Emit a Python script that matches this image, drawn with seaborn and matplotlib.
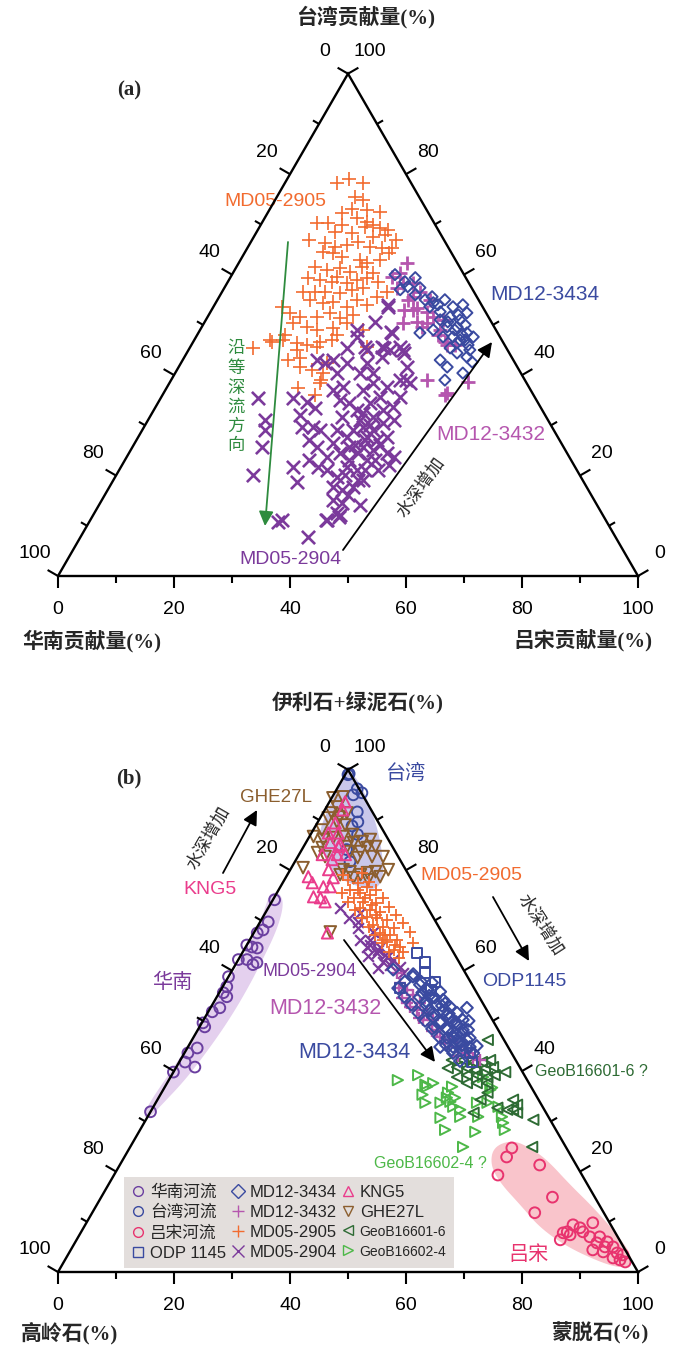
import numpy as np
import matplotlib
matplotlib.use("Agg")
import matplotlib.pyplot as plt
from matplotlib.lines import Line2D
from matplotlib.patches import Polygon
import seaborn as sns

# ---------------- data (ternary %) ----------------
# panel (a): (Taiwan %, Luzon %) ; South China = rest
a_md05_2905 = [(78.3, 8.9), (79.1, 10.7), (78.3, 13.5), (75.5, 13.4), (74.9, 15.1), (72.3, 12.9), (73.1, 14.1),
               (72.9, 16.9), (72.5, 19.2), (71.3, 15.9), (70.3, 9.5), (70.3, 11.4), (69.9, 14.1), (70.5, 18.1),
               (69.9, 19.3), (69.5, 18.1), (68.9, 22.4), (69.3, 20.8), (68.5, 13.5), (68.3, 16.5), (66.9, 24.9),
               (67.5, 20.5), (67.9, 22.4), (66.9, 9.9), (66.3, 12.8), (65.5, 15.0), (65.9, 16.8), (66.5, 18.4),
               (65.5, 21.0), (65.3, 23.2), (65.3, 24.9), (64.5, 13.4), (64.3, 15.2), (63.5, 17.3), (62.9, 20.6),
               (62.4, 22.1), (62.9, 24.0), (64.3, 25.0), (61.6, 13.5), (61.0, 15.9), (61.4, 17.9), (60.6, 20.0),
               (61.6, 21.6), (60.4, 24.1), (59.4, 13.4), (59.0, 15.7), (58.6, 17.9), (59.6, 18.3), (58.4, 20.6),
               (59.0, 22.1), (59.4, 23.6), (58.6, 25.9), (56.6, 13.9), (56.6, 16.0), (56.6, 17.7), (56.4, 20.4),
               (57.0, 22.2), (57.4, 23.9), (56.6, 28.4), (55.0, 15.9), (54.4, 18.5), (54.6, 20.1), (53.6, 23.0),
               (55.0, 24.1), (54.0, 26.3), (55.6, 27.2), (53.6, 11.8), (52.4, 13.8), (51.6, 15.9), (51.6, 18.9),
               (52.4, 20.7), (51.4, 22.9), (52.0, 24.9), (50.4, 15.3), (49.6, 18.1), (49.0, 20.2), (49.4, 22.7),
               (50.4, 24.6), (49.0, 28.1), (46.6, 13.6), (47.0, 15.3), (46.4, 18.0), (46.0, 19.9), (46.6, 21.9),
               (47.0, 13.1), (45.4, 10.9), (48.0, 15.1), (45.0, 18.7), (43.0, 18.2), (41.6, 20.9), (41.0, 23.3),
               (40.4, 25.5), (38.4, 26.0), (37.4, 22.7), (36.1, 26.3), (42.4, 25.2), (47.0, 23.7), (48.0, 24.1),
               (45.6, 30.5), (45.6, 21.9), (43.4, 20.0), (39.0, 25.8)]
a_md05_2904 = [(35.5, 16.7), (31.1, 20.1), (29.1, 21.2), (25.7, 22.4), (20.1, 23.5), (11.2, 33.0), (35.5, 22.7),
               (32.1, 25.6), (34.7, 25.5), (33.5, 27.5), (29.7, 27.3), (29.7, 29.1), (29.1, 30.6), (27.1, 29.8),
               (25.7, 31.8), (21.7, 29.6), (18.7, 31.8), (23.1, 31.8), (21.7, 33.9), (23.7, 34.5), (42.4, 24.8),
               (40.4, 27.9), (42.4, 28.6), (37.6, 30.3), (37.1, 28.8), (35.1, 31.0), (34.5, 33.0), (33.1, 35.0),
               (31.7, 33.2), (29.1, 33.5), (27.7, 35.9), (29.1, 36.3), (26.5, 34.1), (24.5, 36.3), (25.7, 37.4),
               (24.5, 39.4), (21.1, 35.8), (19.7, 38.2), (21.7, 38.9), (21.1, 41.0), (19.1, 43.0), (17.7, 38.5),
               (17.1, 40.5), (17.7, 42.0), (15.1, 39.8), (14.5, 41.8), (12.5, 41.8), (11.2, 40.8), (12.2, 42.5),
               (10.8, 32.5), (42.4, 32.1), (38.4, 35.1), (37.1, 34.0), (34.5, 36.5), (35.7, 37.6), (37.6, 37.9),
               (32.5, 36.3), (31.7, 38.4), (33.1, 39.4), (33.7, 40.9), (35.7, 41.2), (29.7, 37.8), (29.1, 39.7),
               (30.5, 40.7), (31.1, 42.3), (27.7, 39.4), (27.1, 41.5), (27.7, 42.9), (25.7, 39.8), (25.1, 41.8),
               (24.5, 44.5), (23.7, 46.0), (23.1, 41.8), (19.1, 42.1), (39.0, 39.5), (45.0, 37.0), (45.0, 34.7),
               (43.6, 34.1), (45.0, 30.8), (47.6, 27.8), (48.4, 33.4), (41.6, 39.4), (38.4, 41.5), (40.4, 31.9),
               (40.4, 34.1), (45.4, 27.1), (43.0, 25.9), (43.0, 23.2), (7.8, 39.2), (11.2, 40.6), (11.8, 42.5),
               (49.0, 27.1), (50.6, 29.4), (54.0, 29.9), (48.6, 33.1), (44.4, 37.5), (39.0, 40.5), (45.4, 33.5),
               (53.6, 30.1), (45.6, 33.1), (45.6, 36.2), (45.6, 30.1), (31.1, 36.5), (30.1, 38.7), (27.1, 39.3),
               (26.1, 38.2), (23.1, 43.1), (23.1, 38.7), (20.1, 39.4), (21.1, 42.3), (26.1, 42.4), (22.1, 46.1),
               (21.1, 44.6), (16.1, 42.0), (14.1, 45.0)]
a_md12_3434 = [(59.4, 31.9), (55.6, 36.7), (54.4, 37.5), (55.0, 39.2), (53.6, 41.3), (54.0, 42.8), (52.4, 44.3),
               (51.0, 43.8), (51.6, 41.8), (52.6, 39.6), (53.6, 37.3), (48.4, 38.2), (49.0, 40.2), (49.6, 42.3),
               (49.6, 44.0), (48.4, 46.3), (47.6, 44.3), (47.0, 45.8), (47.6, 47.8), (57.0, 30.5), (57.6, 31.5),
               (57.4, 33.7), (47.6, 42.6), (46.4, 45.6), (47.0, 46.7), (43.0, 44.4), (41.6, 46.3), (44.4, 46.6),
               (40.4, 49.6), (39.0, 47.2), (43.6, 48.7), (45.0, 48.5), (45.4, 44.9), (51.0, 40.4), (50.6, 41.9),
               (49.0, 43.9), (48.0, 45.7), (50.0, 45.2), (52.0, 43.0), (54.0, 38.5), (55.0, 35.8), (56.0, 33.6),
               (58.6, 30.5), (60.0, 28.1), (46.0, 47.7), (42.6, 50.1)]
a_md12_3432 = [(62.4, 29.0), (60.4, 28.8), (59.6, 27.8), (58.4, 30.3), (58.4, 32.0), (56.6, 34.1), (55.6, 33.4),
               (55.0, 36.6), (53.4, 35.2), (51.6, 38.9), (51.0, 40.9), (50.4, 38.4), (53.0, 34.7), (50.4, 34.3),
               (49.6, 38.0), (49.0, 41.4), (46.6, 43.4), (57.4, 29.7), (55.0, 32.8), (52.6, 37.3), (39.0, 44.1),
               (36.5, 48.9), (38.6, 51.4), (46.0, 44.1), (53.0, 33.2), (50.6, 36.6), (36.1, 48.6), (46.0, 45.4),
               (48.0, 41.5)]

# panel (b): (illite+chlorite %, smectite %) ; kaolinite = rest
b_sc_river = [(74.1, 0.3), (69.7, 1.4), (68.1, 1.3), (67.5, 0.6), (65.1, 0.0), (64.7, 1.1), (64.5, 2.1), (62.2, 0.0),
              (62.2, 1.5), (61.6, 3.5), (61.2, 3.0), (58.8, 0.0), (56.8, 0.7), (55.6, 0.7), (54.8, 1.7), (52.6, 1.6),
              (51.8, 0.7), (49.6, 0.2), (48.8, 0.9), (43.6, 0.6), (44.6, 1.7), (41.8, 1.0), (39.8, 0.0), (40.8, 3.2),
              (31.9, 0.0)]
b_tw_river = [(99.0, 0.5), (99.2, 0.6), (96.2, 3.5), (95.4, 4.7), (95.0, 3.4), (91.6, 5.8), (89.6, 6.9), (88.8, 6.3),
              (87.1, 8.1), (84.1, 7.7), (81.7, 9.5)]
b_lz_river = [(24.7, 65.9), (22.9, 65.9), (19.3, 66.2), (21.3, 72.4), (14.9, 77.8), (11.8, 76.3), (9.8, 87.3),
              (9.4, 84.1), (8.0, 86.5), (7.8, 83.2), (7.0, 88.2), (7.0, 89.9), (6.4, 83.4), (7.4, 84.6), (5.8, 90.0),
              (6.0, 91.7), (5.0, 91.8), (5.0, 93.2), (4.4, 90.0), (3.8, 94.5), (2.8, 94.3), (2.4, 95.7), (2.0, 96.8),
              (3.4, 95.7), (8.0, 83.8), (8.8, 85.6), (4.0, 92.0)]
b_odp1145 = [(63.5, 30.1), (61.6, 32.5), (59.6, 33.5), (57.8, 36.1), (56.6, 30.7), (41.8, 50.5), (43.6, 49.2),
             (56.2, 36.2)]
b_md12_3434 = [(60.2, 27.7), (57.8, 30.9), (58.8, 31.8), (55.6, 35.0), (56.2, 35.5), (54.6, 37.2), (53.2, 38.7),
               (51.8, 40.5), (50.6, 42.3), (49.2, 44.2), (47.6, 46.0), (46.2, 47.4), (44.8, 48.6), (43.6, 49.8),
               (54.2, 39.3), (52.8, 41.2), (51.6, 43.0), (50.2, 44.7), (48.2, 46.6), (50.8, 39.3), (49.6, 41.1),
               (48.2, 43.0), (46.8, 44.7), (45.6, 46.5), (52.6, 44.2), (57.6, 35.7), (55.8, 38.0), (46.6, 43.8),
               (44.8, 43.5), (44.8, 45.7), (44.2, 47.7), (44.2, 45.8), (57.2, 33.8), (53.9, 36.5), (52.0, 38.0),
               (51.2, 41.5), (49.8, 43.0), (48.8, 40.5), (47.3, 45.2), (45.2, 47.2), (53.5, 40.0), (50.0, 45.8),
               (47.8, 44.2), (55.0, 36.5), (46.0, 46.0), (59.3, 31.6), (56.5, 30.4), (57.8, 33.7), (54.8, 32.3),
               (56.2, 35.7), (53.2, 34.3), (54.7, 35.0), (54.6, 37.7), (51.6, 36.3), (53.1, 37.0), (53.0, 39.7),
               (50.0, 38.3), (51.5, 39.0), (51.4, 41.7), (48.4, 40.3), (49.9, 41.0), (49.8, 43.7), (46.8, 42.3),
               (48.3, 43.0), (48.2, 45.7), (45.2, 44.3), (46.7, 45.0), (46.6, 47.7), (43.6, 46.3), (45.1, 47.0),
               (45.0, 49.7), (42.0, 48.3)]
b_md12_3432 = [(59.6, 28.6), (57.6, 30.2), (56.2, 32.1), (55.2, 33.6), (53.6, 35.6), (52.2, 35.8), (51.6, 37.8),
               (50.2, 39.6), (48.2, 41.2), (46.8, 42.5), (46.2, 44.5), (44.8, 46.4), (43.6, 48.7), (42.6, 50.3),
               (42.2, 51.7), (54.6, 32.0), (52.8, 34.3), (50.2, 37.8), (49.2, 39.9), (56.5, 30.5), (53.5, 33.5),
               (50.5, 37.0), (48.0, 40.5), (45.5, 44.0), (43.0, 47.5)]
b_md05_2905 = [(78.1, 11.0), (77.5, 12.9), (76.7, 15.0), (76.1, 12.3), (75.5, 14.4), (75.1, 16.3), (74.5, 13.7),
               (73.7, 15.8), (73.5, 18.0), (72.5, 15.9), (72.1, 17.8), (71.7, 19.7), (70.7, 18.0), (70.5, 19.8),
               (70.1, 21.7), (69.1, 19.8), (68.7, 21.7), (68.5, 23.6), (67.5, 21.8), (67.1, 23.7), (66.1, 25.4),
               (65.7, 23.9), (64.7, 26.7), (63.7, 27.7), (79.1, 9.6), (66.1, 22.9), (64.1, 25.8), (74.5, 15.7),
               (71.1, 19.2), (67.1, 22.9), (65.1, 25.6), (73.1, 17.6), (76.1, 13.7), (79.4, 12.8), (75.4, 11.2),
               (77.7, 14.8), (73.7, 13.2), (76.0, 16.8), (72.0, 15.2), (74.4, 18.8), (70.4, 17.2), (72.7, 20.8),
               (68.7, 19.2), (71.0, 22.8), (67.0, 21.2), (69.4, 24.8), (65.4, 23.2), (67.7, 26.8), (63.7, 25.2),
               (65.5, 28.5), (62.5, 27.5)]
b_md05_2904 = [(72.5, 12.4), (69.7, 16.8), (71.5, 16.4), (67.7, 20.5), (66.1, 20.8), (64.7, 21.0), (64.7, 23.2),
               (63.5, 23.3), (62.7, 25.4), (61.2, 26.6), (61.8, 25.1), (65.1, 21.3), (64.1, 23.2), (63.1, 24.9),
               (62.2, 26.7), (60.8, 28.6), (59.6, 29.7), (70.5, 15.0), (68.5, 17.5), (66.0, 19.0), (63.0, 22.0),
               (60.5, 25.0)]
b_kng5 = [(93.6, 2.7), (92.0, 3.1), (87.4, 2.9), (87.4, 4.6), (85.5, 4.2), (85.1, 6.1), (83.1, 6.6), (83.1, 8.0),
          (83.1, 4.0), (82.1, 6.2), (80.1, 6.6), (78.7, 3.8), (77.5, 5.1), (76.7, 7.4), (78.5, 8.2), (76.7, 8.6),
          (74.7, 6.7), (74.5, 8.0), (73.7, 9.2), (67.5, 12.7), (84.7, 6.0), (89.4, 3.1)]
b_ghe27l = [(94.4, 0.2), (94.6, 1.8), (92.6, 1.8), (91.4, 1.5), (90.6, 3.3), (91.4, 4.1), (90.4, 1.4), (89.6, 3.3),
            (89.0, 5.0), (88.0, 1.5), (86.7, 0.7), (86.1, 2.7), (86.5, 4.2), (86.7, 5.8), (87.1, 7.2), (85.5, 8.2),
            (85.7, 9.6), (86.1, 10.8), (84.5, 11.1), (84.7, 12.4), (83.7, 10.3), (83.7, 8.5), (84.5, 3.3),
            (83.5, 3.0), (82.7, 4.7), (82.5, 10.4), (82.7, 12.8), (82.7, 14.7), (80.5, 2.0), (80.1, 9.1),
            (79.7, 10.5), (79.1, 12.6), (79.5, 13.6), (79.7, 14.9), (80.1, 16.9), (78.7, 16.2), (79.1, 9.1),
            (78.5, 11.7), (78.1, 14.4), (67.7, 13.1), (84.7, 7.5)]
b_geob16601 = [(42.2, 46.8), (42.2, 48.7), (41.8, 50.7), (41.8, 52.2), (42.2, 53.4), (46.2, 51.0), (40.6, 46.9),
               (40.8, 48.4), (40.6, 50.2), (40.2, 51.8), (40.6, 53.3), (40.8, 54.6), (38.8, 49.4), (39.2, 50.9),
               (39.2, 52.6), (38.8, 54.6), (39.2, 55.7), (37.6, 51.7), (37.6, 53.4), (37.6, 55.2), (34.3, 61.3),
               (33.3, 62.5), (32.3, 62.3), (31.7, 63.3), (34.3, 55.7), (31.7, 55.8), (32.7, 59.4), (30.3, 66.8),
               (24.9, 69.3), (35.7, 56.2), (39.8, 57.2), (32.3, 61.3)]
b_geob16602 = [(38.2, 39.5), (39.2, 42.5), (37.3, 44.7), (37.6, 45.9), (35.3, 45.2), (33.7, 46.5), (33.7, 49.1),
               (35.7, 49.4), (33.9, 50.7), (34.7, 51.1), (30.7, 50.6), (30.9, 53.9), (33.7, 55.4), (30.9, 57.0),
               (27.9, 58.0), (24.9, 57.4), (36.3, 56.4), (32.9, 59.5), (30.9, 61.1), (29.7, 61.9), (28.3, 62.9),
               (36.9, 49.5), (34.7, 49.7), (36.9, 45.2), (32.9, 51.7), (32.3, 53.2), (33.7, 57.2), (36.7, 56.5),
               (38.8, 53.9), (28.3, 52.6)]

# source fields (outline vertices, same ternary units)
zone_taiwan = [(100, 0), (98.0, 2.7), (94.0, 6.4), (88.0, 11.2), (82.1, 15.0), (78.1, 17.0), (76.1, 16.6),
               (76.5, 14.2), (78.1, 9.6), (82.1, 5.0), (87.1, 1.2), (93.0, 0.4), (98.0, 0)]
zone_south = [(75.5, -1.2), (75.5, 0.5), (73.1, 2.4), (68.1, 3.7), (62.2, 4.2), (56.2, 4.5), (50.2, 4.4), (44.2, 3.8),
              (38.2, 2.8), (33.3, 1.25), (30.9, 0.45), (30.7, -0.65), (33.3, -1.15), (41.2, -0.4), (50.2, 0.2),
              (59.2, 0.4), (67.1, 0.45), (73.1, -0.65)]
zone_luzon = [(24.9, 62.6), (26.3, 65.2), (24.7, 69.1), (22.3, 73.2), (17.3, 79.7), (12.9, 85.8), (8.0, 92.0),
              (4.0, 96.6), (1.4, 98.3), (0.8, 96.5), (2.0, 92.4), (5.0, 85.3), (8.8, 78.7), (13.3, 73.1),
              (17.7, 67.4), (21.3, 63.9)]

tick_values = [0, 20, 40, 60, 80, 100]

# ---------------- helpers ----------------
SQ = np.sqrt(3) / 2
BLUE, PURPLE, MAGENTA, ORANGE = "#3A4AA0", "#7B3A9B", "#B556AE", "#F26B2F"
PINK, BROWN, DKGREEN, LTGREEN, CRIMSON = "#EA3C8C", "#8B5E2E", "#2E6B34", "#4DB848", "#E8336E"
SC_PURPLE = "#6B3FA0"

sns.set_theme(style="white")
plt.rcParams["font.family"] = ["Liberation Sans", "Noto Sans CJK SC", "DejaVu Sans"]
CJK_TITLE = ["Liberation Serif", "Noto Sans CJK SC", "DejaVu Sans"]


def tern(pairs):
    a = np.asarray(pairs, float) / 100
    return a[:, 1] + a[:, 0] / 2, a[:, 0] * SQ


def chaikin(x, y, n=3):
    p = np.column_stack([x, y])
    for _ in range(n):
        q = np.roll(p, -1, axis=0)
        r = np.empty((2 * len(p), 2))
        r[0::2] = 0.75 * p + 0.25 * q
        r[1::2] = 0.25 * p + 0.75 * q
        p = r
    return p


def scatter(ax, pairs, marker, color, s, lw, z, hollow=False):
    x, y = tern(pairs)
    kw = dict(facecolor="none", edgecolor=color) if hollow else {}
    sns.scatterplot(x=x, y=y, ax=ax, marker=marker, s=s, color=color, linewidth=lw,
                    zorder=z, legend=False, **kw)


def zone(ax, pairs, color):
    x, y = tern(pairs)
    ax.add_patch(Polygon(chaikin(x, y), closed=True, facecolor=color, edgecolor="none", zorder=1))


def frame(ax):
    ax.plot([0, 1, 0.5, 0], [0, 0, SQ, 0], color="black", lw=1.7, zorder=6, solid_joinstyle="miter")
    for v in range(0, 101, 10):
        ln = 12 / 580 if v % 20 == 0 else 7 / 580
        kw = dict(color="black", lw=1.5, zorder=6, solid_capstyle="butt")
        ax.plot([v / 100, v / 100], [0, -ln], **kw)
        lx, ly = (100 - v) / 200, (100 - v) / 100 * SQ
        ax.plot([lx, lx - ln * SQ], [ly, ly + ln / 2], **kw)
        rx, ry = 1 - v / 200, v / 100 * SQ
        ax.plot([rx, rx + ln * SQ], [ry, ry + ln / 2], **kw)
    for v in tick_values:
        tk = dict(fontsize=14, ha="center", va="center", color="black")
        ax.text(v / 100, -34 / 580, str(v), **tk)
        ax.text((100 - v) / 200 - 23 / 580, (100 - v) / 100 * SQ + 22 / 580, str(v), **tk)
        ax.text(1 - v / 200 + 22 / 580, v / 100 * SQ + 22 / 580, str(v), **tk)


def arrow(ax, p0, p1, color, lw=1.6, ms=22):
    ax.annotate("", xy=p1, xytext=p0, zorder=7,
                arrowprops=dict(arrowstyle="-|>", color=color, lw=lw, mutation_scale=ms,
                                shrinkA=0, shrinkB=0))


fig = plt.figure(figsize=(7, 13.59), dpi=100)
ax_a = fig.add_axes([0, 1 - 680 / 1359, 1, 680 / 1359])
ax_b = fig.add_axes([0, 0, 1, 679 / 1359])
ax_a.set_xlim(-58 / 580, 642 / 580)
ax_a.set_ylim((576 - 680) / 580, 576 / 580)
ax_b.set_xlim(-58 / 580, 642 / 580)
ax_b.set_ylim((1272 - 1359) / 580, (1272 - 680) / 580)
for ax in (ax_a, ax_b):
    ax.set_axis_off()


def pa(px, py):
    return ((px - 58) / 580, (576 - py) / 580)


def pb(px, py):
    return ((px - 58) / 580, (1272 - py) / 580)


# ---------------- panel (a) ----------------
scatter(ax_a, a_md05_2905, "+", ORANGE, 95, 1.2, 3)
scatter(ax_a, a_md05_2904, "x", PURPLE, 90, 1.9, 3)
scatter(ax_a, a_md12_3432, "+", MAGENTA, 90, 2.0, 4)
scatter(ax_a, a_md12_3434, "D", BLUE, 32, 1.4, 5, hollow=True)
frame(ax_a)

ttl = dict(fontsize=15, fontweight="bold", family=CJK_TITLE, va="center")
ax_a.text(*pa(366, 17), "台湾贡献量(%)", ha="center", **ttl)
ax_a.text(*pa(22, 641), "华南贡献量(%)", ha="left", **ttl)
ax_a.text(*pa(652, 641), "吕宋贡献量(%)", ha="right", **ttl)
ax_a.text(*pa(129, 90), "(a)", fontsize=15, fontweight="bold", family="Liberation Serif", ha="center", va="center")

ax_a.text(*pa(275, 202), "MD05-2905", color=ORANGE, fontsize=14, ha="center", va="center")
ax_a.text(*pa(545, 295), "MD12-3434", color=BLUE, fontsize=15, ha="center", va="center")
ax_a.text(*pa(491, 435), "MD12-3432", color=MAGENTA, fontsize=15, ha="center", va="center")
ax_a.text(*pa(290, 560), "MD05-2904", color=PURPLE, fontsize=14, ha="center", va="center")

arrow(ax_a, pa(288, 242), pa(265, 526), "#2E8B3E", lw=1.3)
ax_a.text(*pa(236, 397), "\n".join("沿等深流方向"), color="#2E8B3E", fontsize=12.5,
          ha="center", va="center", linespacing=1.3)
arrow(ax_a, pa(343, 550), pa(492, 342), "black", lw=1.3)
ax_a.text(*pa(420, 487), "水深增加", fontsize=12.5, rotation=54, ha="center", va="center")

# ---------------- panel (b) ----------------
zone(ax_b, zone_taiwan, "#C9C7EA")
zone(ax_b, zone_south, "#E4D0EE")
zone(ax_b, zone_luzon, "#F9C4CB")

scatter(ax_b, b_sc_river, "o", SC_PURPLE, 60, 1.4, 3, hollow=True)
scatter(ax_b, b_lz_river, "o", CRIMSON, 60, 1.4, 3, hollow=True)
scatter(ax_b, b_tw_river, "o", BLUE, 60, 1.4, 3, hollow=True)
scatter(ax_b, b_geob16602, ">", LTGREEN, 55, 1.4, 3, hollow=True)
scatter(ax_b, b_geob16601, "<", DKGREEN, 55, 1.4, 3, hollow=True)
scatter(ax_b, b_ghe27l, "v", BROWN, 70, 1.4, 3, hollow=True)
scatter(ax_b, b_kng5, "^", PINK, 65, 1.4, 3, hollow=True)
scatter(ax_b, b_md05_2904, "x", PURPLE, 60, 1.6, 3)
scatter(ax_b, b_md05_2905, "+", ORANGE, 75, 1.3, 3)
scatter(ax_b, b_md12_3432, "+", MAGENTA, 75, 1.7, 3)
scatter(ax_b, b_md12_3434, "D", BLUE, 36, 1.5, 4, hollow=True)
scatter(ax_b, b_odp1145, "s", BLUE, 55, 1.4, 4, hollow=True)
frame(ax_b)

ax_b.text(*pb(358, 703), "伊利石+绿泥石(%)", ha="center", **ttl)
ax_b.text(*pb(21, 1333), "高岭石(%)", ha="left", **ttl)
ax_b.text(*pb(648, 1333), "蒙脱石(%)", ha="right", **ttl)
ax_b.text(*pb(129, 778), "(b)", fontsize=15, fontweight="bold", family="Liberation Serif", ha="center", va="center")

lab = dict(ha="center", va="center")
ax_b.text(*pb(406, 773), "台湾", color=BLUE, fontsize=14.5, **lab)
ax_b.text(*pb(276, 797), "GHE27L", color=BROWN, fontsize=13.5, **lab)
ax_b.text(*pb(210, 890), "KNG5", color=PINK, fontsize=14, **lab)
ax_b.text(*pb(471, 875), "MD05-2905", color=ORANGE, fontsize=14, **lab)
ax_b.text(*pb(524, 982), "ODP1145", color=BLUE, fontsize=14, **lab)
ax_b.text(*pb(172, 982), "华南", color=PURPLE, fontsize=14.5, **lab)
ax_b.text(*pb(310, 972), "MD05-2904", color=PURPLE, fontsize=13, **lab)
ax_b.text(*pb(325, 1008), "MD12-3432", color=MAGENTA, fontsize=15.5, **lab)
ax_b.text(*pb(354, 1052), "MD12-3434", color=BLUE, fontsize=15.5, **lab)
ax_b.text(*pb(591, 1072), "GeoB16601-6 ?", color=DKGREEN, fontsize=11.5, **lab)
ax_b.text(*pb(430, 1163), "GeoB16602-4 ?", color=LTGREEN, fontsize=11.5, **lab)
ax_b.text(*pb(529, 1255), "吕宋", color=CRIMSON, fontsize=14.5, **lab)

arrow(ax_b, pb(223, 873), pb(257, 810), "black", lw=1.3)
ax_b.text(*pb(208, 838), "水深增加", fontsize=12.5, rotation=60, **lab)
arrow(ax_b, pb(493, 897), pb(529, 961), "black", lw=1.3)
ax_b.text(*pb(541, 925), "水深增加", fontsize=12.5, rotation=-57, **lab)
arrow(ax_b, pb(344, 940), pb(435, 1062), "black", lw=1.3)

# legend
leg_items = [("华南河流", "o", SC_PURPLE), ("台湾河流", "o", BLUE), ("吕宋河流", "o", CRIMSON),
             ("ODP 1145", "s", BLUE), ("MD12-3434", "D", BLUE), ("MD12-3432", "+", MAGENTA),
             ("MD05-2905", "+", ORANGE), ("MD05-2904", "x", PURPLE), ("KNG5", "^", PINK),
             ("GHE27L", "v", BROWN), ("GeoB16601-6", "<", DKGREEN), ("GeoB16602-4", ">", LTGREEN)]
handles = [Line2D([], [], ls="none", marker=m, markersize=8 if m in "+x" else 7, markerfacecolor="none",
                  markeredgecolor=c, markeredgewidth=1.0, color=c) for _, m, c in leg_items]
leg = ax_b.legend(handles, [t for t, _, _ in leg_items], ncol=3, loc="lower left",
                  bbox_to_anchor=pb(124, 1268), bbox_transform=ax_b.transData,
                  fontsize=12, handlelength=0.8, handletextpad=0.3, columnspacing=0.3,
                  labelspacing=0.3, borderpad=0.45, borderaxespad=0, frameon=True, fancybox=False,
                  framealpha=1, facecolor="#E3DEDC", edgecolor="none")
leg.set_zorder(8)
for t in leg.get_texts()[10:]:
    t.set_fontsize(10)

fig.savefig("out.png", dpi=100)
